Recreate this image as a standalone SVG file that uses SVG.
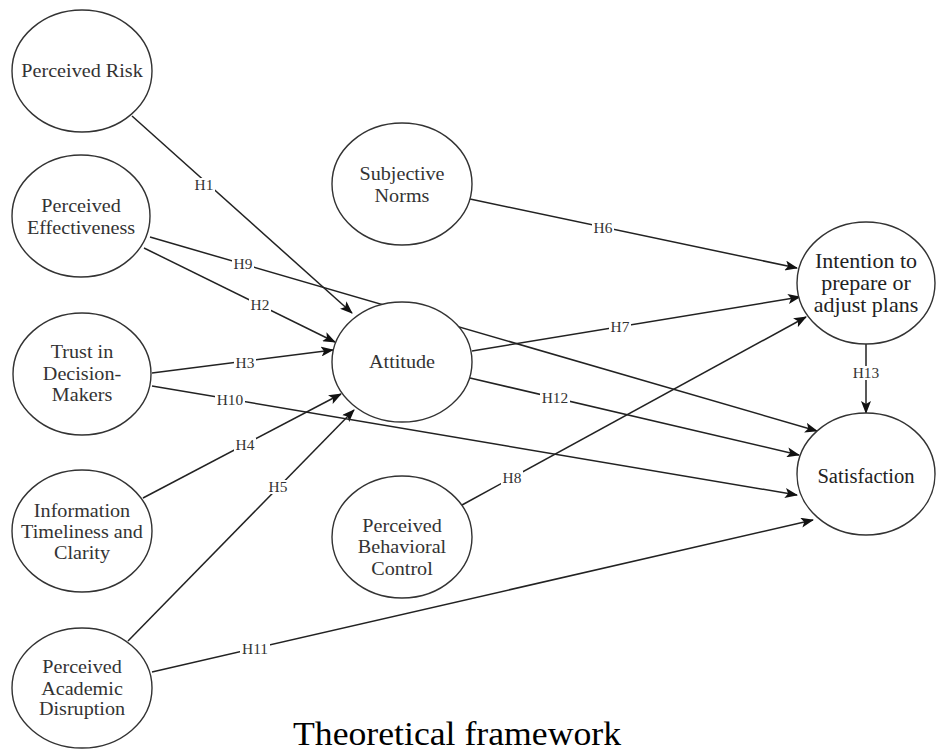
<svg xmlns="http://www.w3.org/2000/svg" width="936" height="754" viewBox="0 0 936 754">
<style>
.node{fill:#fff;stroke:#333;stroke-width:1.4}
.t{font-family:"Liberation Serif","Times New Roman",serif;font-size:18px;fill:#333;text-anchor:middle}
.tb{font-family:"Liberation Serif","Times New Roman",serif;font-size:20px;fill:#222;text-anchor:middle}
.e{fill:none;stroke:#222;stroke-width:1.5}
.a{marker-end:url(#arr)}
.lb{fill:#fff}
.l{font-family:"Liberation Serif","Times New Roman",serif;font-size:14px;fill:#333;text-anchor:middle}
.cap{font-family:"Liberation Serif","Times New Roman",serif;font-size:34px;fill:#000}
</style>
<defs>
<marker id="arr" markerUnits="userSpaceOnUse" markerWidth="13" markerHeight="10" refX="12" refY="5" orient="auto">
<path d="M0,0 L13,5 L0,10 L3,5 z" fill="#111"/>
</marker>
</defs>
<rect width="936" height="754" fill="#fff"/>
<g id="connectors">
<line class="e a" x1="132" y1="116" x2="352" y2="313"/>
<line class="e a" x1="144" y1="248" x2="335" y2="342"/>
<line class="e a" x1="152" y1="373" x2="333" y2="350"/>
<line class="e a" x1="143" y1="498" x2="341" y2="394"/>
<line class="e a" x1="128" y1="641" x2="354" y2="410"/>
<line class="e a" x1="470" y1="199" x2="797" y2="268"/>
<line class="e a" x1="472" y1="351" x2="800" y2="297"/>
<line class="e a" x1="462" y1="505" x2="806" y2="317"/>
<line class="e a" x1="150" y1="237" x2="817" y2="431"/>
<line class="e a" x1="152" y1="386" x2="797" y2="495"/>
<line class="e a" x1="152" y1="672" x2="813" y2="520"/>
<line class="e a" x1="470" y1="378" x2="799" y2="455"/>
<line class="e a" x1="866" y1="343" x2="866" y2="413"/>
<g id="labels">
<rect class="lb" x="193" y="178" width="22" height="14"/><text class="l" transform="translate(204,190) scale(1.1,1)">H1</text>
<rect class="lb" x="249" y="298" width="22" height="14"/><text class="l" transform="translate(260,310) scale(1.1,1)">H2</text>
<rect class="lb" x="234" y="356" width="22" height="14"/><text class="l" transform="translate(245,368) scale(1.1,1)">H3</text>
<rect class="lb" x="234" y="438" width="22" height="14"/><text class="l" transform="translate(245,450) scale(1.1,1)">H4</text>
<rect class="lb" x="267" y="480" width="22" height="14"/><text class="l" transform="translate(278,492) scale(1.1,1)">H5</text>
<rect class="lb" x="592" y="221" width="22" height="14"/><text class="l" transform="translate(603,233) scale(1.1,1)">H6</text>
<rect class="lb" x="609" y="320" width="22" height="14"/><text class="l" transform="translate(620,332) scale(1.1,1)">H7</text>
<rect class="lb" x="501" y="471" width="22" height="14"/><text class="l" transform="translate(512,483) scale(1.1,1)">H8</text>
<rect class="lb" x="232" y="257" width="22" height="14"/><text class="l" transform="translate(243,269) scale(1.1,1)">H9</text>
<rect class="lb" x="215" y="393" width="30" height="14"/><text class="l" transform="translate(230,405) scale(1.1,1)">H10</text>
<rect class="lb" x="240" y="642" width="30" height="14"/><text class="l" transform="translate(255,654) scale(1.1,1)">H11</text>
<rect class="lb" x="540" y="391" width="30" height="14"/><text class="l" transform="translate(555,403) scale(1.1,1)">H12</text>
<rect class="lb" x="851" y="366" width="30" height="14"/><text class="l" transform="translate(866,378) scale(1.1,1)">H13</text>
</g>
</g>
<g id="nodes">
<g id="perceived-risk"><ellipse class="node" cx="82" cy="71" rx="70" ry="61"/>
<text class="t" transform="translate(82,77) scale(1.12,1)">Perceived Risk</text></g>
<g id="perceived-effectiveness"><ellipse class="node" cx="81" cy="216" rx="69" ry="61"/>
<text class="t" transform="translate(81,212) scale(1.12,1)">Perceived</text>
<text class="t" transform="translate(81,234) scale(1.12,1)">Effectiveness</text></g>
<g id="trust"><ellipse class="node" cx="82" cy="374" rx="69" ry="61"/>
<text class="t" transform="translate(82,358) scale(1.12,1)">Trust in</text>
<text class="t" transform="translate(82,380) scale(1.12,1)">Decision-</text>
<text class="t" transform="translate(82,401) scale(1.12,1)">Makers</text></g>
<g id="information"><ellipse class="node" cx="82" cy="531" rx="70" ry="61"/>
<text class="t" transform="translate(82,517) scale(1.12,1)">Information</text>
<text class="t" transform="translate(82,538) scale(1.12,1)">Timeliness and</text>
<text class="t" transform="translate(82,559) scale(1.12,1)">Clarity</text></g>
<g id="academic-disruption"><ellipse class="node" cx="82" cy="688" rx="70" ry="60"/>
<text class="t" transform="translate(82,673) scale(1.12,1)">Perceived</text>
<text class="t" transform="translate(82,695) scale(1.12,1)">Academic</text>
<text class="t" transform="translate(82,715) scale(1.12,1)">Disruption</text></g>
<g id="subjective-norms"><ellipse class="node" cx="402" cy="184" rx="70" ry="61"/>
<text class="t" transform="translate(402,180) scale(1.12,1)">Subjective</text>
<text class="t" transform="translate(402,202) scale(1.12,1)">Norms</text></g>
<g id="attitude"><ellipse class="node" cx="402" cy="362" rx="70" ry="60"/>
<text class="t" transform="translate(402,368) scale(1.12,1)">Attitude</text></g>
<g id="behavioral-control"><ellipse class="node" cx="402" cy="537" rx="70" ry="61"/>
<text class="t" transform="translate(402,532) scale(1.12,1)">Perceived</text>
<text class="t" transform="translate(402,553) scale(1.12,1)">Behavioral</text>
<text class="t" transform="translate(402,575) scale(1.12,1)">Control</text></g>
<g id="intention"><ellipse class="node" cx="866" cy="283" rx="69" ry="61"/>
<text class="tb" transform="translate(866,268) scale(1.1,1)">Intention to</text>
<text class="tb" transform="translate(866,290) scale(1.1,1)">prepare or</text>
<text class="tb" transform="translate(866,312) scale(1.1,1)">adjust plans</text></g>
<g id="satisfaction"><ellipse class="node" cx="866" cy="474" rx="69" ry="61"/>
<text class="tb" transform="translate(866,483) scale(1.03,1)">Satisfaction</text></g>
</g>
<text class="cap" transform="translate(293,745) scale(1.05,1)">Theoretical framework</text>
</svg>
